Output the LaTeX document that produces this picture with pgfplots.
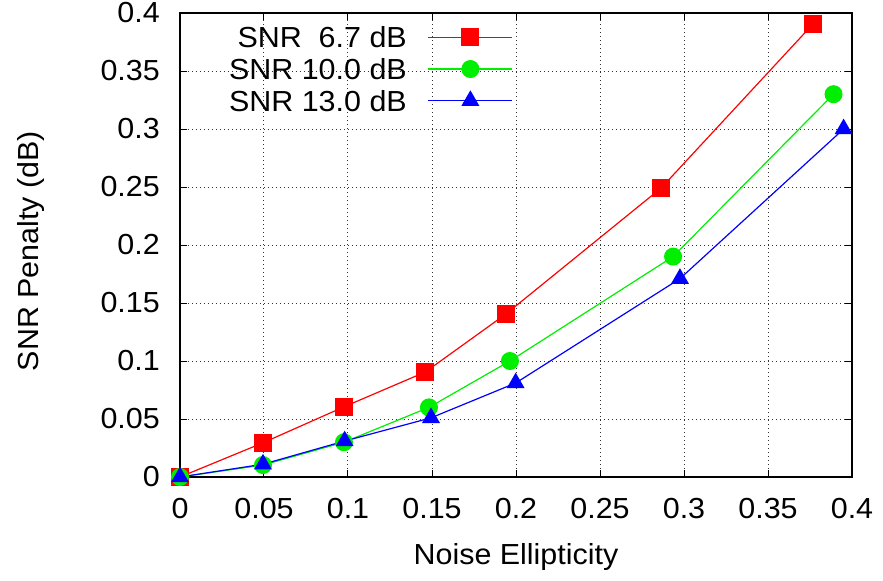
\documentclass[border=0pt]{standalone}
\usepackage{pgfplots}
\pgfplotsset{compat=1.18}
\usepackage{fontspec}
\setmainfont{Liberation Sans}[FakeStretch=1.05]
\newcommand\F{\fontsize{29bp}{34bp}\selectfont}
\definecolor{gpred}{RGB}{255,0,0}
\definecolor{gpgreen}{RGB}{0,238,0}
\definecolor{gpblue}{RGB}{0,0,255}
\begin{document}
\F
\begin{tikzpicture}
\begin{axis}[
  width=672bp, height=464bp, scale only axis,
  xmin=0, xmax=0.4, ymin=0, ymax=0.4,
  xtick={0,0.05,0.1,0.15,0.2,0.25,0.3,0.35,0.4},
  xticklabels={0,0.05,0.1,0.15,0.2,0.25,0.3,0.35,0.4},
  ytick={0,0.05,0.1,0.15,0.2,0.25,0.3,0.35,0.4},
  yticklabels={0,0.05,0.1,0.15,0.2,0.25,0.3,0.35,0.4},
  xtick pos=both, ytick pos=both, tick align=inside,
  major tick length=7bp,
  every tick/.style={black, line width=1bp},
  axis line style={line width=1.8bp, black},
  grid=major,
  grid style={black!80, line width=1bp, dash pattern=on 1bp off 3bp},
  xticklabel style={font=\F, anchor=base, inner sep=0pt, yshift=-41bp},
  yticklabel style={font=\F, anchor=east, inner sep=0pt, xshift=-20bp},
  xlabel={Noise Ellipticity}, ylabel={SNR Penalty (dB)},
  xlabel style={font=\F, at={(axis description cs:0.5,-0.1875)}, anchor=base, inner sep=0pt},
  ylabel style={font=\F, at={(axis description cs:-0.2113,0.4871)}, anchor=base, inner sep=0pt, rotate=0},
  clip=false,
  legend plot pos=right,
  legend cell align=right,
  legend image code/.code={\draw[mark repeat=2,mark phase=2,#1] plot coordinates {(0bp,0bp) (42bp,0bp) (84bp,0bp)};},
  legend style={draw=none, fill=none, inner sep=0pt, outer sep=0pt,
    at={(axis cs:0.19821,0.39272)}, anchor=north east,
    column sep=21bp, row sep=0pt, font=\F,
    nodes={inner sep=0pt, text height=26.2bp, text depth=5.5bp}},
]
\coordinate (sw) at (rel axis cs:0,0);
\addplot[color=gpred, line width=1.2bp, mark=square*, mark size=8.5bp, mark options={solid, fill=gpred}]
  coordinates {(0,0) (0.0496,0.0296) (0.0978,0.0606) (0.146,0.0905) (0.194,0.1405) (0.2863,0.249) (0.3768,0.3905)};
\addlegendentry{SNR\ \ 6.7 dB}
\addplot[color=gpgreen, line width=1.2bp, mark=*, mark size=8.4bp, mark options={solid, fill=gpgreen}]
  coordinates {(0,0) (0.0494,0.0103) (0.0976,0.030) (0.1482,0.060) (0.1964,0.100) (0.2935,0.190) (0.389,0.330)};
\addlegendentry{SNR 10.0 dB}
\addplot[color=gpblue, line width=1.2bp, mark=triangle*, mark size=9.2bp, mark options={solid, fill=gpblue}]
  coordinates {(0,0) (0.0494,0.011) (0.098,0.031) (0.1494,0.051) (0.1998,0.081) (0.2976,0.171) (0.395,0.300)};
\addlegendentry{SNR 13.0 dB}
\end{axis}
\pgfresetboundingbox
\path[use as bounding box] (sw) ++(-180bp,-104bp) rectangle ++(883bp,581bp);
\end{tikzpicture}
\end{document}
